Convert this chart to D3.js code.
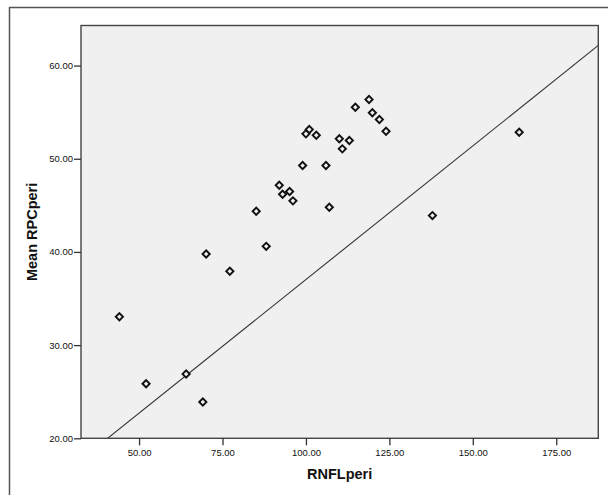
<!DOCTYPE html>
<html>
<head>
<meta charset="utf-8">
<script src="https://cdn.jsdelivr.net/npm/d3@7"></script>
<style>
  html, body { margin: 0; padding: 0; background: #fff; }
  svg { display: block; }
  text { font-family: Arial, "Liberation Sans", sans-serif; fill: #111; }
</style>
</head>
<body>
<svg id="chart" width="608" height="495"></svg>
<script>
// RNFLperi (x) against Mean RPCperi (y), one diamond per eye
const rnfl = [118.9, 114.8, 119.9, 122.0, 124.0, 101.0, 100.0, 103.1, 110.0, 113.0,
              110.9, 99.0, 106.0, 92.0, 95.1, 93.0, 96.1, 85.1, 107.0, 88.1,
              70.1, 77.2, 44.1, 52.1, 64.1, 69.1, 137.9, 163.9];
const rpc  = [56.36, 55.53, 54.93, 54.21, 52.95, 53.14, 52.67, 52.52, 52.14, 51.96,
              51.06, 49.27, 49.27, 47.15, 46.48, 46.19, 45.48, 44.36, 44.79, 40.60,
              39.78, 37.92, 33.05, 25.85, 26.90, 23.89, 43.90, 52.85];

// Reference line: y = slope * x + intercept
const fitSlope = 0.2868;
const fitIntercept = 8.36;

const xTicks = [50, 75, 100, 125, 150, 175];
const yTicks = [20, 30, 40, 50, 60];
const xDomain = [32.6, 187.6];
const yDomain = [20, 64.3];

const svg = d3.select("#chart");
const plot = { left: 81, top: 25.5, right: 598.3, bottom: 438.3 };

const x = d3.scaleLinear().domain(xDomain).range([plot.left, plot.right]);
const y = d3.scaleLinear().domain(yDomain).range([plot.bottom, plot.top]);

// outer chart frame (continues past the window on the right and bottom)
svg.append("rect")
  .attr("x", 9.5).attr("y", 7.5)
  .attr("width", 640).attr("height", 520)
  .attr("fill", "none").attr("stroke", "#555").attr("stroke-width", 1.5);

// plot background
svg.append("rect")
  .attr("x", plot.left).attr("y", plot.top)
  .attr("width", plot.right - plot.left).attr("height", plot.bottom - plot.top)
  .attr("fill", "#f0f0f0");

svg.append("clipPath").attr("id", "plotClip")
  .append("rect")
  .attr("x", plot.left).attr("y", plot.top)
  .attr("width", plot.right - plot.left).attr("height", plot.bottom - plot.top);

// reference line
svg.append("line")
  .attr("clip-path", "url(#plotClip)")
  .attr("x1", x(xDomain[0])).attr("y1", y(fitSlope * xDomain[0] + fitIntercept))
  .attr("x2", x(xDomain[1])).attr("y2", y(fitSlope * xDomain[1] + fitIntercept))
  .attr("stroke", "#333").attr("stroke-width", 1.1);

// diamond markers
const diamond = d3.symbol().type(d3.symbolSquare).size(26);
svg.append("g")
  .selectAll("path")
  .data(rnfl.map((v, i) => [v, rpc[i]]))
  .join("path")
  .attr("d", diamond)
  .attr("transform", d => `translate(${x(d[0])},${y(d[1])}) rotate(45)`)
  .attr("fill", "#f0f0f0")
  .attr("stroke", "#111")
  .attr("stroke-width", 1.9);

// plot border
svg.append("rect")
  .attr("x", plot.left).attr("y", plot.top)
  .attr("width", plot.right - plot.left).attr("height", plot.bottom - plot.top)
  .attr("fill", "none").attr("stroke", "#444").attr("stroke-width", 1.4);

// axes
const fmt = d3.format(".2f");
const xAxis = svg.append("g")
  .attr("transform", `translate(0,${plot.bottom})`)
  .call(d3.axisBottom(x).tickValues(xTicks).tickFormat(fmt).tickSize(7).tickPadding(4));
const yAxis = svg.append("g")
  .attr("transform", `translate(${plot.left},0)`)
  .call(d3.axisLeft(y).tickValues(yTicks).tickFormat(fmt).tickSize(7).tickPadding(1));

[xAxis, yAxis].forEach(a => {
  a.select(".domain").remove();
  a.selectAll(".tick line").attr("stroke", "#333").attr("stroke-width", 1.3);
  a.selectAll(".tick text")
    .attr("font-size", 9.5)
    .attr("font-family", "Arial, 'Liberation Sans', sans-serif")
    .attr("fill", "#111");
});

// axis titles
svg.append("text")
  .attr("x", (plot.left + plot.right) / 2).attr("y", 479)
  .attr("text-anchor", "middle")
  .attr("font-size", 14.5).attr("font-weight", "bold")
  .text("RNFLperi");

svg.append("text")
  .attr("transform", `translate(37,${(plot.top + plot.bottom) / 2}) rotate(-90)`)
  .attr("text-anchor", "middle")
  .attr("font-size", 14.5).attr("font-weight", "bold")
  .text("Mean RPCperi");
</script>
</body>
</html>
